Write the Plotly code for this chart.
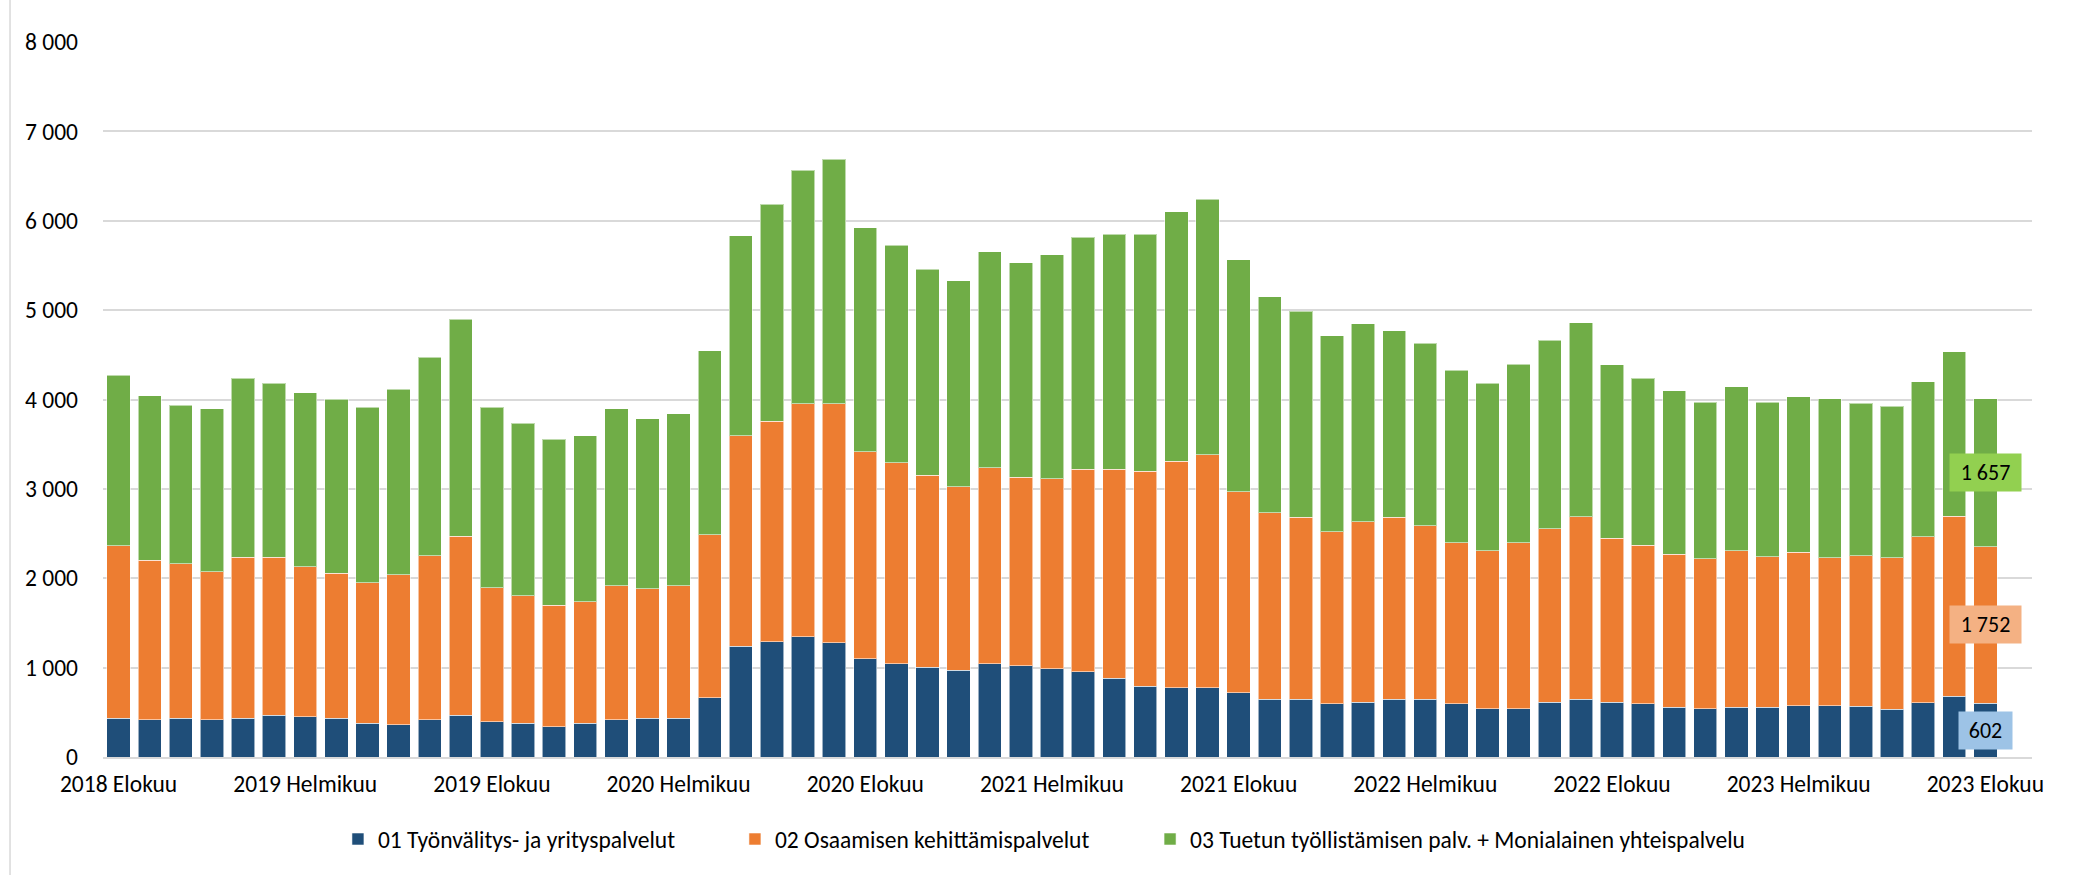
import plotly.graph_objects as go

MONTHS = ["Tammikuu", "Helmikuu", "Maaliskuu", "Huhtikuu", "Toukokuu", "Kesäkuu",
          "Heinäkuu", "Elokuu", "Syyskuu", "Lokakuu", "Marraskuu", "Joulukuu"]
categories = [f"{2018 + (7 + i) // 12} {MONTHS[(7 + i) % 12]}" for i in range(61)]

series_names = ["01 Työnvälitys- ja yrityspalvelut",
                "02 Osaamisen kehittämispalvelut",
                "03 Tuetun työllistämisen palv. + Monialainen yhteispalvelu"]

blue = [431, 416, 431, 416, 431, 468, 449, 431, 378, 360, 416, 468, 393, 378, 341, 378,
        416, 431, 431, 663, 1240, 1292, 1348, 1277, 1097, 1045, 1007, 970, 1045, 1022,
        985, 955, 880, 790, 775, 775, 719, 648, 648, 596, 610, 648, 648, 596, 539, 539,
        610, 648, 610, 596, 558, 539, 558, 558, 573, 573, 570, 537, 607, 682, 602]
orange = [1935, 1786, 1733, 1659, 1804, 1767, 1682, 1625, 1574, 1677, 1838, 2002, 1503,
          1428, 1357, 1361, 1502, 1450, 1487, 1824, 2355, 2462, 2603, 2674, 2319, 2248,
          2143, 2054, 2192, 2107, 2129, 2263, 2338, 2410, 2533, 2608, 2249, 2087, 2033,
          1924, 2022, 2033, 1942, 1799, 1766, 1856, 1943, 2042, 1840, 1774, 1712, 1681,
          1752, 1682, 1717, 1657, 1680, 1693, 1858, 2011, 1752]
green = [1906, 1839, 1769, 1821, 2004, 1948, 1944, 1948, 1962, 2075, 2216, 2429, 2018,
         1929, 1858, 1854, 1978, 1906, 1925, 2058, 2237, 2432, 2616, 2739, 2505, 2431,
         2305, 2304, 2416, 2401, 2503, 2595, 2629, 2647, 2793, 2859, 2595, 2414, 2308,
         2196, 2215, 2091, 2038, 1930, 1878, 2000, 2110, 2170, 1940, 1870, 1830, 1750,
         1830, 1730, 1740, 1780, 1710, 1695, 1735, 1842, 1657]

tick_labels = categories[::6]
y_ticks = [0, 1000, 2000, 3000, 4000, 5000, 6000, 7000, 8000]

colors = ["#1F4E79", "#ED7D31", "#70AD47"]
label_bg = ["#9DC3E6", "#F4B183", "#92D050"]
FONT = "Carlito, Calibri, Lato, sans-serif"
FS = 23.5

fig = go.Figure()
legend_ids = ["legend", "legend2", "legend3"]
for name, vals, col, lg in zip(series_names, [blue, orange, green], colors, legend_ids):
    fig.add_trace(go.Bar(
        x=categories, y=vals, name=name, legend=lg,
        marker=dict(color=col, line=dict(color="rgba(255,255,255,0.55)", width=1)),
        hoverinfo="x+y+name",
    ))

# data labels on the last bar
def fmt(v):
    return f"{v:,}".replace(",", " ")

base = 0
for vals, bg, w in zip([blue, orange, green], label_bg, [45, 63, 63]):
    v = vals[-1]
    fig.add_annotation(
        x=categories[-1], y=base + v / 2, xref="x", yref="y",
        text=fmt(v), showarrow=False, bgcolor=bg, borderpad=4, width=w, height=29,
        font=dict(family=FONT, size=22, color="#000000"),
    )
    base += v

# chart-area left border
fig.add_shape(type="line", xref="paper", yref="paper",
              x0=-0.0482, x1=-0.0482, y0=-0.165, y1=1.059,
              line=dict(color="#D9D9D9", width=1.5))

legend_common = dict(orientation="h", xanchor="left", y=-0.115, yanchor="middle",
                     font=dict(family=FONT, size=FS, color="#000000"),
                     itemclick=False, bgcolor="rgba(0,0,0,0)")

fig.update_layout(
    width=2085, height=875,
    barmode="stack", bargap=0.25,
    separators=". ",
    paper_bgcolor="white", plot_bgcolor="white",
    margin=dict(l=103, r=53, t=42, b=118),
    font=dict(family=FONT, size=FS, color="#000000"),
    showlegend=True,
    legend=dict(x=0.1218, **legend_common),
    legend2=dict(x=0.3276, **legend_common),
    legend3=dict(x=0.5428, **legend_common),
    xaxis=dict(
        type="category", range=[-0.5, 61.5],
        tickmode="array", tickvals=tick_labels, ticktext=tick_labels,
        showgrid=False, showline=True, linecolor="#D9D9D9", linewidth=1.5,
        ticks="", ticklabelstandoff=5, tickangle=0,
        tickfont=dict(family=FONT, size=FS, color="#000000"),
    ),
    yaxis=dict(
        range=[0, 8000], tickvals=y_ticks, tickformat=",d",
        showgrid=True, gridcolor="#D9D9D9", gridwidth=1.5,
        zeroline=False, showline=False, ticks="", ticklabelstandoff=24,
        tickfont=dict(family=FONT, size=FS, color="#000000"),
    ),
)

fig.write_html("out.html", config={"displayModeBar": False})

# remove the browser's default page margin so the figure fills the window exactly
with open("out.html", encoding="utf-8") as f:
    html = f.read()
html = html.replace("<body>", '<body style="margin:0;padding:0;">', 1)
with open("out.html", "w", encoding="utf-8") as f:
    f.write(html)
